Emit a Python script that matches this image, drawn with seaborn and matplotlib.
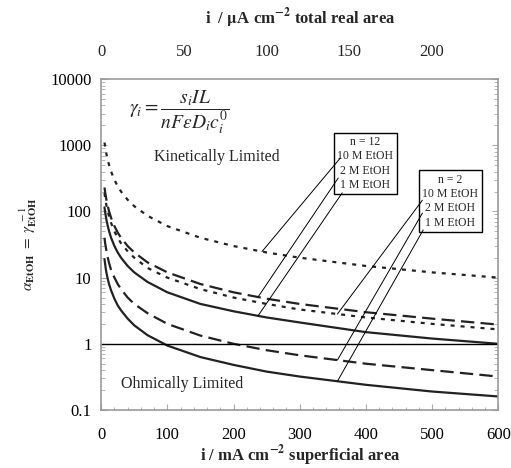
import numpy as np
import pandas as pd
import seaborn as sns
import matplotlib.pyplot as plt
from matplotlib.ticker import FixedLocator, FixedFormatter, LogLocator, NullFormatter, MultipleLocator

# superficial current density, mA cm-2
i_sup = [5, 6, 7, 8, 10, 12, 15, 20, 25, 30, 40, 50, 70, 100, 150, 200, 250, 300, 400, 500, 600]

# alpha_EtOH
n12_10M = [1100, 950, 830, 730, 600, 500, 400, 300, 240, 200, 150, 120, 86, 60, 40, 30, 24, 20, 15, 12, 10]
n12_2M = [230, 195, 170, 148, 120, 100, 80, 60, 48, 40, 30, 24, 17, 12, 8, 6, 4.8, 4, 3, 2.4, 1.95]
n12_1M = [115, 98, 85, 74, 60, 50, 40, 30, 24, 20, 15, 12, 8.6, 6, 4, 3.1, 2.5, 2.1, 1.5, 1.2, 1.0]
n2_10M = [190, 162, 140, 122, 100, 83, 67, 50, 40, 33, 25, 20, 14, 10, 6.7, 5, 4, 3.3, 2.5, 2, 1.65]
n2_2M = [40, 33, 29, 25, 20, 16.5, 13, 10, 8, 6.7, 5, 4, 2.9, 2, 1.33, 1, 0.8, 0.67, 0.5, 0.4, 0.32]
n2_1M = [19, 16, 13.5, 11.8, 9.5, 7.9, 6.4, 4.8, 3.8, 3.2, 2.4, 1.9, 1.35, 0.94, 0.63, 0.48, 0.38, 0.32, 0.24, 0.19, 0.16]

y_ticks = [0.1, 1, 10, 100, 1000, 10000]
y_labels = ["0.1", "1", "10", "100", "1000", "10000"]
top_ticks = [0, 50, 100, 150, 200]
area_ratio = 2.5  # superficial / total real

sns.set_style("ticks")
plt.rcParams["font.family"] = ["Liberation Serif", "DejaVu Serif"]
plt.rcParams["mathtext.fontset"] = "stix"

fig = plt.figure(figsize=(5.11, 4.68), dpi=100)
ax = fig.add_axes([0.198, 0.124, 0.777, 0.707])

dotted = (0, (1.8, 2.7))
dashed = (0, (6.0, 2.8))
series = [
    (n12_10M, dotted), (n12_2M, dashed), (n12_1M, "-"),
    (n2_10M, dotted), (n2_2M, dashed), (n2_1M, "-"),
]
for vals, ls in series:
    sns.lineplot(x=i_sup, y=vals, ax=ax, color="#222222", lw=1.6, linestyle=ls)

ax.axhline(1, color="black", lw=1.0)

ax.set_yscale("log")
ax.set_xlim(0, 600)
ax.set_ylim(0.1, 10000)
ax.xaxis.set_major_locator(MultipleLocator(100))
ax.xaxis.set_minor_locator(MultipleLocator(20))
ax.yaxis.set_major_locator(FixedLocator(y_ticks))
ax.yaxis.set_major_formatter(FixedFormatter(y_labels))
ax.yaxis.set_minor_locator(LogLocator(base=10, subs=np.arange(2, 10)))
ax.yaxis.set_minor_formatter(NullFormatter())
ax.tick_params(axis="both", which="both", direction="in", colors="#aaaaaa",
               labelcolor="black", labelsize=12, right=True)
ax.tick_params(axis="x", which="major", length=4, pad=12)
ax.tick_params(axis="x", which="minor", length=2)
ax.tick_params(axis="y", which="major", length=4, pad=7)
ax.tick_params(axis="y", which="minor", length=3)
for sp in ax.spines.values():
    sp.set_color("#999999")
    sp.set_linewidth(1.2)

ax.set_ylabel(r"$\alpha_{\mathbf{EtOH}}\ =\ \gamma^{\ -1}_{\mathbf{EtOH}}$",
              fontsize=11, labelpad=8)

top = ax.secondary_xaxis("top", functions=(lambda x: x / area_ratio,
                                           lambda x: x * area_ratio))
top.set_xticks(top_ticks)
top.tick_params(length=0, pad=14, labelsize=12)
top.spines["top"].set_visible(False)

fig.text(0.587, 0.026, r"i / mA cm$^{\mathbf{-2}}$ superficial area",
         ha="center", va="center", fontsize=12, fontweight="bold")
fig.text(0.587, 0.962, r"i  / $\mathbf{\mu}$A cm$^{\mathbf{-2}}$ total real area",
         ha="center", va="center", fontsize=12, fontweight="bold")

ax.text(0.196, 0.90, r"$\gamma_i = \dfrac{s_i IL}{nF\varepsilon D_i c_i^0}$",
        transform=ax.transAxes, ha="center", va="center", fontsize=14)
ax.text(0.292, 0.764, "Kinetically Limited", transform=ax.transAxes,
        ha="center", va="center", fontsize=11.5)
ax.text(0.204, 0.078, "Ohmically Limited", transform=ax.transAxes,
        ha="center", va="center", fontsize=11.5)

box = dict(boxstyle="square,pad=0.3", fc="white", ec="black", lw=1.0)
ax.text(0.665, 0.745, "n = 12\n10 M EtOH\n2 M EtOH\n1 M EtOH",
        transform=ax.transAxes, ha="center", va="center", fontsize=8.5,
        linespacing=1.25, bbox=box)
ax.text(0.879, 0.631, "n = 2\n10 M EtOH\n2 M EtOH\n1 M EtOH",
        transform=ax.transAxes, ha="center", va="center", fontsize=8.5,
        linespacing=1.25, bbox=box)


def curve_at(x, vals):
    return 10 ** np.interp(x, i_sup, np.log10(vals))


leaders = [
    (n12_10M, 243, (0.602, 0.761)),
    (n12_2M, 237, (0.597, 0.701)),
    (n12_1M, 237, (0.607, 0.656)),
    (n2_10M, 357, (0.809, 0.634)),
    (n2_2M, 357, (0.809, 0.595)),
    (n2_1M, 357, (0.811, 0.544)),
]
for vals, x_end, start in leaders:
    ax.annotate("", xy=(x_end, curve_at(x_end, vals)), xycoords="data",
                xytext=start, textcoords="axes fraction",
                arrowprops=dict(arrowstyle="-", color="black", lw=0.7,
                                shrinkA=0, shrinkB=0))

fig.savefig("out.png", dpi=100)
